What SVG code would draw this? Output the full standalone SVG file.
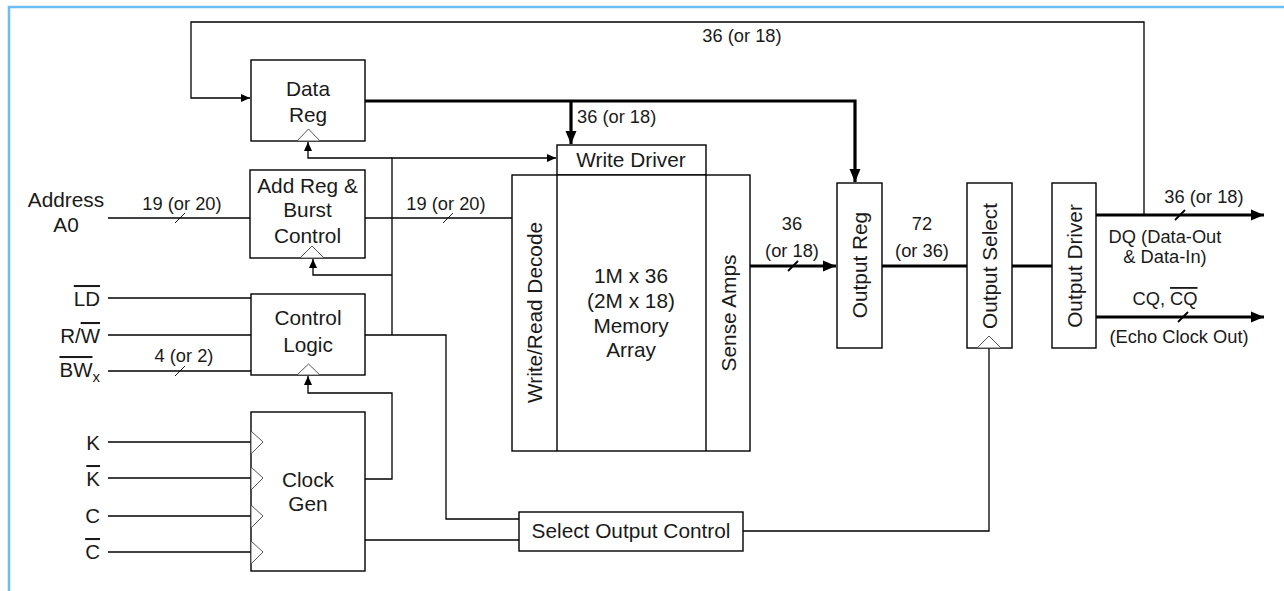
<svg xmlns="http://www.w3.org/2000/svg" width="1284" height="591" viewBox="0 0 1284 591">
<style>
  text { font-family: "Liberation Sans", Arial, sans-serif; fill: #1a1a1a; }
  .n { font-size: 20.8px; text-anchor: middle; }
  .s { font-size: 18.3px; text-anchor: middle; }
  .in { font-size: 20.5px; text-anchor: end; }
  .box { fill: #fff; stroke: #000; stroke-width: 1.4; }
  .clk { fill: #fff; stroke: #444; stroke-width: 0.9; }
  .w { fill: none; stroke: #000; stroke-width: 1.3; }
  .b { fill: none; stroke: #000; stroke-width: 3.2; }
  .sl { stroke: #000; stroke-width: 0.9; }
  .slb { stroke: #000; stroke-width: 1.8; }
  .ov { text-decoration: overline; }
</style>
<defs>
  <marker id="a" markerUnits="userSpaceOnUse" markerWidth="10" markerHeight="10" refX="9" refY="5" orient="auto">
    <path d="M0,1 L9,5 L0,9 z" fill="#000"/>
  </marker>
  <marker id="ab" markerUnits="userSpaceOnUse" markerWidth="14" markerHeight="14" refX="13" refY="7" orient="auto">
    <path d="M0,1.5 L13,7 L0,12.5 z" fill="#000"/>
  </marker>
</defs>
<rect width="1284" height="591" fill="#fff"/>
<g id="frame">
  <path d="M9,591 V7 H1284" fill="none" stroke="#6bbdf5" stroke-width="2.5"/>
</g>

<g id="connectors">
  <!-- top feedback -->
  <path class="w" d="M1144,215 V22 H191 V98 H250" marker-end="url(#a)"/>
  <!-- bold data paths -->
  <path class="b" d="M365,101 H855 V182" marker-end="url(#ab)"/>
  <path class="b" d="M571,101 V144" marker-end="url(#ab)"/>
  <!-- clock distribution from control logic -->
  <path class="w" d="M365,335 H446 V519 H519"/>
  <path class="w" d="M392,335 V158 H556" marker-end="url(#a)"/>
  <path class="w" d="M392,158 H308 V142" marker-end="url(#a)"/>
  <path class="w" d="M392,275 H313 V259" marker-end="url(#a)"/>
  <!-- clock gen outputs -->
  <path class="w" d="M365,479 H392 V393 H308 V376" marker-end="url(#a)"/>
  <path class="w" d="M365,540 H519"/>
  <path class="w" d="M743,531 H989 V348"/>
  <!-- inputs -->
  <path class="w" d="M108,218 H250"/>
  <line class="sl" x1="175" y1="223" x2="185" y2="213"/>
  <path class="w" d="M365,218 H512"/>
  <line class="sl" x1="443" y1="223" x2="453" y2="213"/>
  <path class="w" d="M108,298 H251"/>
  <path class="w" d="M108,335 H251"/>
  <path class="w" d="M108,371 H251"/>
  <line class="sl" x1="175" y1="376" x2="185" y2="366"/>
  <path class="w" d="M108,442 H251"/>
  <path class="w" d="M108,478 H251"/>
  <path class="w" d="M108,516 H251"/>
  <path class="w" d="M108,552 H251"/>
  <!-- output side -->
  <path class="b" d="M750,266 H836" marker-end="url(#ab)"/>
  <line class="slb" x1="788" y1="271" x2="798" y2="261"/>
  <path class="b" d="M882,266 H967"/>
  <path class="b" d="M1012,266 H1052"/>
  <path class="b" d="M1096,215 H1264" marker-end="url(#ab)"/>
  <line class="slb" x1="1175" y1="220" x2="1185" y2="210"/>
  <path class="b" d="M1096,317 H1264" marker-end="url(#ab)"/>
  <line class="slb" x1="1178" y1="322" x2="1188" y2="312"/>
</g>

<g id="labels">
  <text class="s" x="742" y="42">36 (or 18)</text>
  <text class="s" x="577" y="123" style="text-anchor:start">36 (or 18)</text>
  <text class="s" x="182" y="210">19 (or 20)</text>
  <text class="s" x="446" y="210">19 (or 20)</text>
  <text class="s" x="184" y="362">4 (or 2)</text>
  <text class="s" x="792" y="230">36</text>
  <text class="s" x="792" y="257">(or 18)</text>
  <text class="s" x="922" y="230">72</text>
  <text class="s" x="922" y="257">(or 36)</text>
  <text class="s" x="1204" y="203">36 (or 18)</text>
  <text class="s" x="1165" y="243">DQ (Data-Out</text>
  <text class="s" x="1165" y="263">&amp; Data-In)</text>
  <text class="s" x="1165" y="305">CQ, <tspan class="ov">CQ</tspan></text>
  <text class="s" x="1179" y="343">(Echo Clock Out)</text>
  <text class="n" x="66" y="207">Address</text>
  <text class="n" x="66" y="232">A0</text>
  <text class="in" x="100" y="306"><tspan class="ov">LD</tspan></text>
  <text class="in" x="100" y="343">R/<tspan class="ov">W</tspan></text>
  <text class="in" x="100" y="377"><tspan class="ov">BW</tspan><tspan font-size="15" dy="5">x</tspan></text>
  <text class="in" x="100" y="450">K</text>
  <text class="in" x="100" y="486"><tspan class="ov">K</tspan></text>
  <text class="in" x="100" y="523">C</text>
  <text class="in" x="100" y="559"><tspan class="ov">C</tspan></text>
</g>

<g id="data-reg">
  <rect class="box" x="251" y="60" width="114" height="81"/>
  <polygon class="clk" points="297,141 308.5,129 320,141"/>
  <text class="n" x="308" y="96">Data</text>
  <text class="n" x="308" y="122">Reg</text>
</g>
<g id="add-reg">
  <rect class="box" x="250" y="170" width="115" height="88"/>
  <polygon class="clk" points="300,258 312,246 324,258"/>
  <text class="n" x="307.5" y="193">Add Reg &amp;</text>
  <text class="n" x="307.5" y="217">Burst</text>
  <text class="n" x="307.5" y="243">Control</text>
</g>
<g id="control-logic">
  <rect class="box" x="251" y="294" width="114" height="81"/>
  <polygon class="clk" points="297,375 308.5,364 320,375"/>
  <text class="n" x="308" y="325">Control</text>
  <text class="n" x="308" y="352">Logic</text>
</g>
<g id="clock-gen">
  <rect class="box" x="251" y="412" width="114" height="159"/>
  <polygon class="clk" points="251,431 263,442 251,454"/>
  <polygon class="clk" points="251,467 263,478 251,490"/>
  <polygon class="clk" points="251,505 263,516 251,528"/>
  <polygon class="clk" points="251,541 263,552 251,564"/>
  <text class="n" x="308" y="487">Clock</text>
  <text class="n" x="308" y="511">Gen</text>
</g>
<g id="write-driver">
  <rect class="box" x="557" y="145" width="149" height="30"/>
  <text class="n" x="631" y="167">Write Driver</text>
</g>
<g id="memory-array">
  <rect class="box" x="512" y="175" width="238" height="276"/>
  <line x1="557" y1="175" x2="557" y2="451" stroke="#000" stroke-width="1.4"/>
  <line x1="706" y1="175" x2="706" y2="451" stroke="#000" stroke-width="1.4"/>
  <text class="n" transform="translate(534.5,312.5) rotate(-90)" y="7.5">Write/Read Decode</text>
  <text class="n" transform="translate(728,313) rotate(-90)" y="7.5">Sense Amps</text>
  <text class="n" x="631" y="283">1M x 36</text>
  <text class="n" x="631" y="308">(2M x 18)</text>
  <text class="n" x="631" y="333">Memory</text>
  <text class="n" x="631" y="357">Array</text>
</g>
<g id="output-reg">
  <rect class="box" x="837" y="183" width="45" height="165"/>
  <text class="n" transform="translate(859.5,265) rotate(-90)" y="7.5">Output Reg</text>
</g>
<g id="output-select">
  <rect class="box" x="967" y="183" width="45" height="165"/>
  <polygon class="clk" points="977,348 989,336 1001,348"/>
  <text class="n" transform="translate(989.5,266) rotate(-90)" y="7.5">Output Select</text>
</g>
<g id="output-driver">
  <rect class="box" x="1052" y="183" width="44" height="165"/>
  <text class="n" transform="translate(1074,266) rotate(-90)" y="7.5">Output Driver</text>
</g>
<g id="select-output-control">
  <rect class="box" x="519" y="512" width="224" height="39"/>
  <text class="n" x="631" y="538">Select Output Control</text>
</g>
</svg>
